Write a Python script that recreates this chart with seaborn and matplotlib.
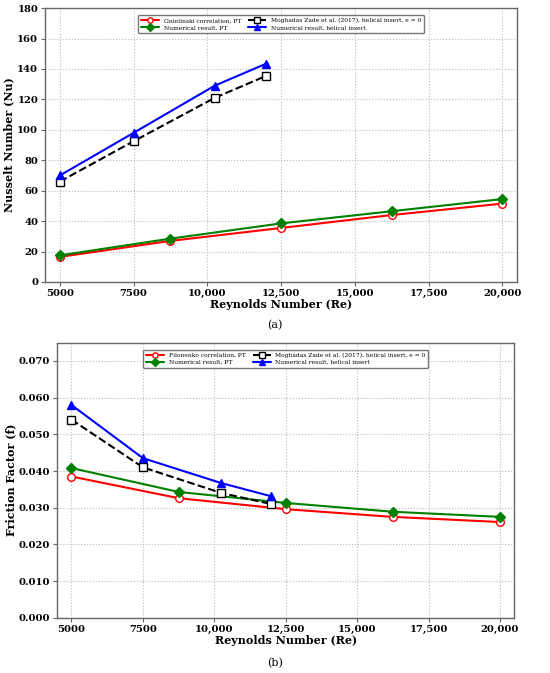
import matplotlib
matplotlib.use("Agg")
import matplotlib.pyplot as plt
import matplotlib.ticker as mticker
import seaborn as sns

# Reynolds numbers
re_pt = [5000, 8750, 12500, 16250, 20000]
re_hi = [5000, 7500, 10250, 12000]

# (a) Nusselt number
nu_gnielinski = [16.5, 27.0, 35.5, 44.0, 51.5]
nu_num_pt = [17.5, 28.5, 38.5, 46.5, 54.5]
nu_moghadas = [66.0, 92.5, 121.0, 135.5]
nu_num_helical = [70.0, 98.0, 129.0, 143.5]

# (b) friction factor
f_filonenko = [0.0385, 0.0326, 0.0296, 0.0275, 0.0261]
f_num_pt = [0.0408, 0.0343, 0.0313, 0.0289, 0.0275]
f_moghadas = [0.0540, 0.0410, 0.0340, 0.0310]
f_num_helical = [0.0580, 0.0435, 0.0367, 0.0331]

xticks = [5000, 7500, 10000, 12500, 15000, 17500, 20000]

sns.set_style("ticks")
plt.rcParams['font.family'] = ['DejaVu Serif']
plt.rcParams['text.color'] = 'black'
plt.rcParams['axes.labelcolor'] = 'black'
plt.rcParams['xtick.labelcolor'] = 'black'
plt.rcParams['ytick.labelcolor'] = 'black'

fig = plt.figure(figsize=(5.5, 6.73), dpi=100)
ax1 = fig.add_axes([0.082, 0.581, 0.858, 0.407])
ax2 = fig.add_axes([0.104, 0.082, 0.831, 0.409])


def draw(ax, ys, labels):
    styles = [
        dict(color='red', marker='o', markerfacecolor='white', markeredgecolor='red', linestyle='-'),
        dict(color='green', marker='D', markerfacecolor='green', markeredgecolor='green', linestyle='-'),
        dict(color='black', marker='s', markerfacecolor='white', markeredgecolor='black', linestyle='--'),
        dict(color='blue', marker='^', markerfacecolor='blue', markeredgecolor='blue', linestyle='-'),
    ]
    xs = [re_pt, re_pt, re_hi, re_hi]
    for x, y, lab, st in zip(xs, ys, labels, styles):
        sns.lineplot(x=x, y=y, ax=ax, label=lab, linewidth=1.5, markersize=5.5,
                     markeredgewidth=1.0, **st)
    h, l = ax.get_legend_handles_labels()
    leg = ax.legend(h, l, loc='upper center', ncol=2, fontsize=4.3,
                    frameon=True, fancybox=True, edgecolor='#555555',
                    borderpad=0.45, handlelength=3.0, columnspacing=1.2,
                    labelspacing=0.35, markerscale=0.7,
                    bbox_to_anchor=(0.5, 0.985))
    leg.get_frame().set_linewidth(1.0)
    ax.set_xlim(4500, 20500)
    ax.set_xticks(xticks)
    ax.xaxis.set_major_formatter(mticker.FuncFormatter(
        lambda v, p: f"{int(v):,}" if v >= 10000 else f"{int(v)}"))
    ax.grid(True, linestyle=':', color='#bbbbbb', linewidth=0.8)
    for s in ax.spines.values():
        s.set_color('#666666')
        s.set_linewidth(1.0)
    ax.tick_params(labelsize=7.2, direction='out', length=3, color='#666666', pad=2)
    ax.set_xlabel('Reynolds Number (Re)', fontsize=8, fontweight='bold', labelpad=1)


draw(ax1, [nu_gnielinski, nu_num_pt, nu_moghadas, nu_num_helical],
     ['Gnielinski correlation, PT', 'Numerical result, PT',
      'Moghadas Zade et al. (2017), helical insert, e = 0', 'Numerical result, helical insert'])
ax1.set_ylim(0, 180)
ax1.set_yticks(range(0, 181, 20))
ax1.set_ylabel('Nusselt Number (Nu)', fontsize=8, fontweight='bold', labelpad=2)

draw(ax2, [f_filonenko, f_num_pt, f_moghadas, f_num_helical],
     ['Filonenko correlation, PT', 'Numerical result, PT',
      'Moghadas Zade et al. (2017), helical insert, e = 0', 'Numerical result, helical insert'])
ax2.set_ylim(0, 0.075)
ax2.set_yticks([0, 0.01, 0.02, 0.03, 0.04, 0.05, 0.06, 0.07])
ax2.yaxis.set_major_formatter(mticker.FormatStrFormatter('%.3f'))
ax2.set_ylabel('Friction Factor (f)', fontsize=8, fontweight='bold', labelpad=2)

for ax in (ax1, ax2):
    for t in ax.get_xticklabels() + ax.get_yticklabels():
        t.set_fontweight('bold')

fig.text(0.5, 0.517, '(a)', ha='center', va='center', fontsize=8)
fig.text(0.5, 0.015, '(b)', ha='center', va='center', fontsize=8)

fig.savefig('out.png', dpi=100)
